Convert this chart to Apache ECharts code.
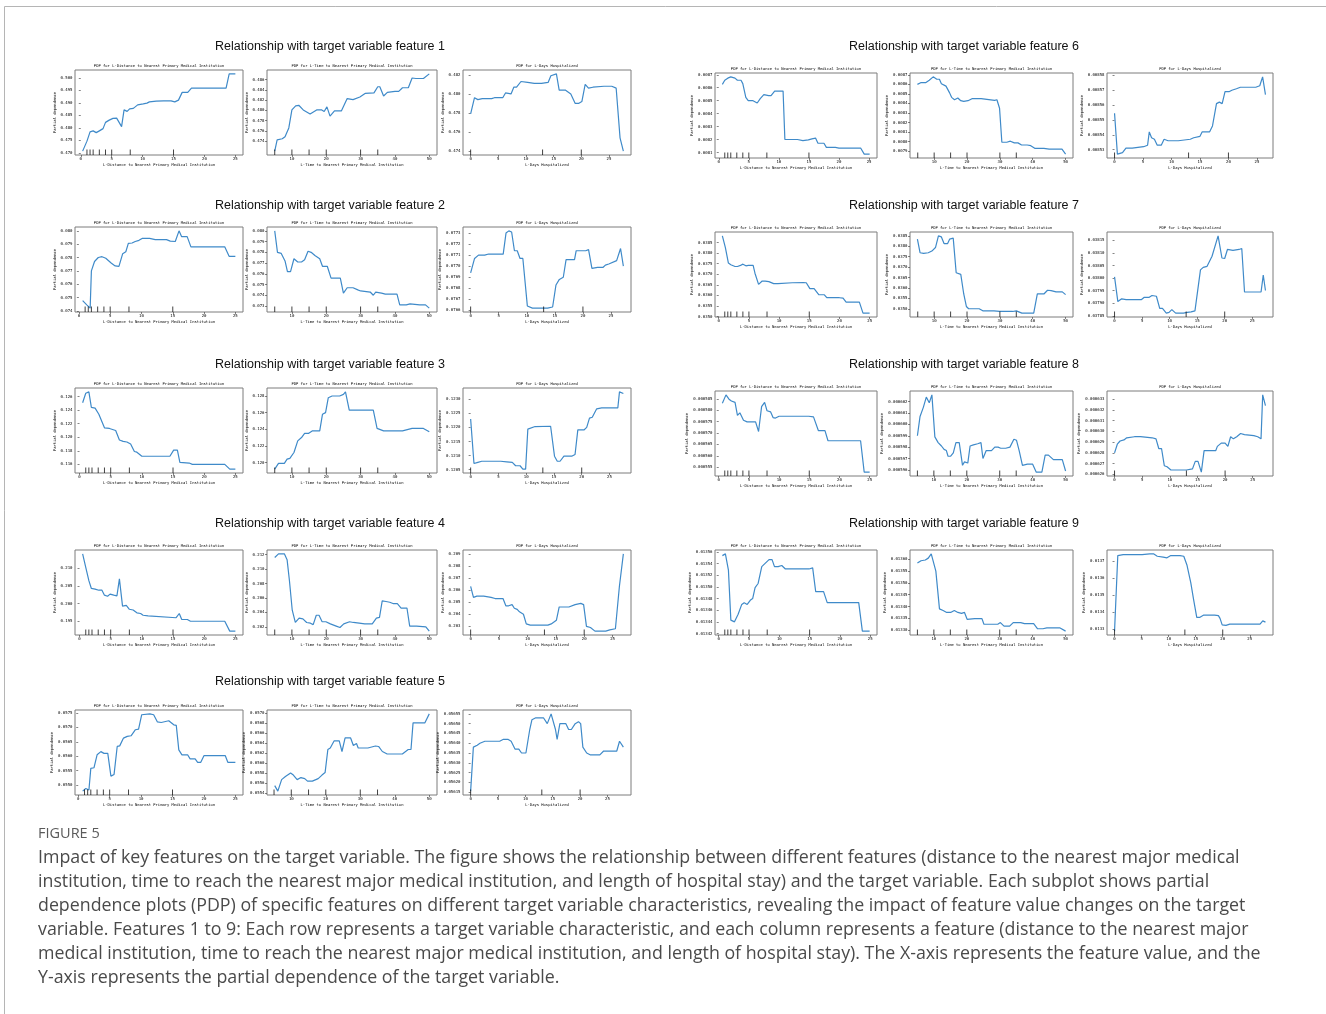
<!DOCTYPE html>
<html>
<head>
<meta charset="utf-8">
<script src="https://cdn.jsdelivr.net/npm/echarts@6/dist/echarts.min.js"></script>
<style>
  html, body { margin: 0; padding: 0; background: #fff; }
  #chart { width: 1326px; height: 1014px; }
</style>
</head>
<body>
<div id="chart"></div>
<script>
// ---- partial dependence curves: [feature value, partial dependence] ----
const f1_dist = [[0.3,0.4707],[1.0,0.4747],[1.5,0.4784],[2.0,0.4788],[2.5,0.4781],[3.0,0.4788],[3.6,0.4797],[4.0,0.4822],[4.6,0.4831],[5.2,0.4838],[5.8,0.4839],[6.1,0.4835],[6.6,0.4805],[7.0,0.4872],[7.5,0.4866],[7.9,0.4876],[8.5,0.4878],[9.2,0.4892],[10.1,0.4896],[10.7,0.4899],[11.1,0.4904],[12.2,0.4907],[13.4,0.4908],[14.6,0.4908],[15.2,0.4904],[15.8,0.4911],[16.4,0.4942],[17.3,0.4942],[17.9,0.4959],[19.4,0.4959],[21.8,0.4959],[23.5,0.4959],[24.0,0.5016],[25.0,0.5016]];
const f1_time = [[5,0.4721],[5.7,0.4743],[7.2,0.4745],[8,0.4749],[9.1,0.4766],[10,0.4801],[11.1,0.4809],[12,0.4810],[13.3,0.4801],[15.3,0.4793],[17.2,0.4801],[18.7,0.4801],[19.4,0.4798],[20.2,0.4807],[21.1,0.4789],[22.4,0.4799],[24.4,0.4799],[26.1,0.4823],[27.8,0.4821],[29.8,0.4826],[31.3,0.4833],[33.9,0.4834],[35,0.4846],[35.6,0.4846],[36.7,0.4828],[37.8,0.4835],[40,0.4837],[41.1,0.4837],[42.2,0.4844],[43.9,0.4844],[45,0.4863],[46.1,0.4862],[48.3,0.4862],[50,0.4871]];
const f1_days = [[0,0.4779],[0.7,0.4796],[1.3,0.4794],[2.1,0.4795],[3.8,0.4795],[4.3,0.4796],[5.8,0.4796],[6.3,0.4801],[7.3,0.4800],[7.8,0.4807],[8.3,0.4807],[9.1,0.4813],[10.3,0.4812],[11.5,0.4811],[12.8,0.4811],[14,0.4812],[14.5,0.4819],[15.5,0.4821],[16,0.4804],[17.1,0.4804],[18.1,0.4800],[18.9,0.4790],[19.5,0.4790],[20.1,0.4792],[20.7,0.4810],[21.3,0.4806],[22.1,0.4807],[24.1,0.4808],[25.5,0.4808],[26.3,0.4806],[27,0.4754],[27.6,0.4740]];

const f2_dist = [[0.6,0.07477],[1.3,0.07443],[1.8,0.0742],[2.0,0.0770],[2.5,0.0777],[3.1,0.0780],[3.7,0.07806],[4.3,0.07794],[4.6,0.0780],[5.2,0.07757],[5.8,0.07737],[6.4,0.07734],[7.0,0.07829],[7.5,0.07843],[7.9,0.07906],[8.5,0.07909],[9.0,0.0792],[9.6,0.07929],[10.1,0.07943],[11.3,0.07943],[12.2,0.07934],[14.0,0.07934],[14.6,0.07923],[15.4,0.0792],[16,0.0800],[16.4,0.07957],[17.3,0.07957],[17.9,0.0788],[19.4,0.0788],[23.3,0.0788],[24,0.07809],[25,0.07809]];
const f2_time = [[5,0.0800],[5.8,0.0780],[6.9,0.0779],[8.0,0.0772],[8.7,0.0762],[9.6,0.0762],[10.6,0.0774],[11.7,0.0771],[12.8,0.0771],[13.7,0.0773],[14.7,0.0781],[15.6,0.0780],[16.7,0.0777],[18.1,0.0774],[18.9,0.0767],[20.3,0.0767],[21.4,0.0756],[24.1,0.0756],[25,0.0742],[26.1,0.0747],[27.8,0.0747],[29.2,0.0745],[30,0.0744],[32.8,0.0743],[33.7,0.0740],[34.4,0.0743],[36.1,0.0742],[37.2,0.0741],[40.6,0.0741],[41.4,0.0731],[43.3,0.0731],[44.4,0.0732],[47.2,0.0731],[48.9,0.0731],[50,0.0728]];
const f2_days = [[0,0.07694],[0.7,0.07707],[1.4,0.07710],[2.5,0.07710],[3.2,0.07711],[5.4,0.07711],[5.8,0.07711],[6.3,0.07730],[6.8,0.07732],[7.3,0.07731],[7.8,0.07714],[8.3,0.07714],[8.8,0.07707],[9.3,0.07707],[10.1,0.07664],[11,0.07662],[13.7,0.07662],[14.6,0.07663],[15.2,0.07683],[15.8,0.07688],[16.5,0.07690],[17,0.07706],[18.5,0.07706],[18.8,0.07714],[20.5,0.07714],[21,0.07715],[21.6,0.07698],[22.6,0.07699],[23.6,0.07699],[24,0.07701],[24.6,0.07702],[26,0.07705],[26.7,0.07716],[27.2,0.07700]];

const f3_dist = [[0.5,0.1251],[1.0,0.1265],[1.5,0.1267],[1.9,0.1244],[2.5,0.1243],[3.1,0.1234],[4.0,0.1214],[4.3,0.1213],[4.8,0.1213],[5.8,0.1210],[6.4,0.1196],[7.0,0.1194],[7.6,0.1193],[8.2,0.1190],[8.8,0.1179],[9.2,0.1178],[10,0.1172],[12.2,0.1172],[14.5,0.1172],[15.1,0.1181],[15.7,0.1181],[16.1,0.1163],[17.6,0.1162],[18.1,0.1160],[23.3,0.1160],[24.1,0.1153],[25,0.1153]];
const f3_time = [[5,0.1192],[6.1,0.1199],[7.8,0.1199],[8.6,0.1204],[9.4,0.1205],[10.6,0.1212],[11.7,0.1226],[12.8,0.1230],[13.7,0.1235],[14.8,0.1235],[15.9,0.1238],[16.7,0.1238],[18.1,0.1238],[18.9,0.1258],[19.8,0.1260],[20.6,0.1278],[21.7,0.1280],[23.9,0.1280],[25,0.1282],[25.6,0.1285],[26.7,0.1263],[30.6,0.1263],[33.7,0.1263],[34.8,0.1241],[36.7,0.1238],[42.2,0.1238],[45,0.1241],[48.3,0.1241],[50,0.1237]];
const f3_days = [[0,0.1223],[0.6,0.12072],[1.3,0.12076],[2,0.1208],[5.4,0.1208],[6.5,0.12078],[7.5,0.12076],[8.1,0.12064],[8.9,0.12064],[9.4,0.12052],[9.9,0.12052],[10.3,0.12194],[10.6,0.122],[11.6,0.12203],[14.4,0.12204],[14.6,0.12204],[15.1,0.12098],[15.6,0.1208],[16.1,0.1208],[16.8,0.12098],[18.2,0.12098],[18.8,0.12104],[19.3,0.12191],[20.4,0.12191],[20.9,0.122],[21.4,0.12233],[21.9,0.12236],[22.7,0.12266],[23.6,0.12269],[26.5,0.12269],[26.8,0.12326],[27.5,0.1232]];

const f4_dist = [[0.5,0.2141],[1.0,0.2103],[1.5,0.2065],[1.9,0.2043],[2.5,0.2041],[3.1,0.2038],[3.6,0.2038],[4.0,0.2024],[4.5,0.2021],[4.9,0.2027],[5.5,0.2024],[6.0,0.2022],[6.4,0.2070],[6.9,0.1993],[7.5,0.1995],[8.0,0.1984],[8.6,0.1982],[9.2,0.1974],[9.8,0.1972],[10.2,0.1967],[11.0,0.1965],[11.3,0.1960],[15.5,0.1960],[16,0.1972],[16.4,0.1955],[17.3,0.1955],[17.8,0.1950],[23.3,0.1950],[24.1,0.1922],[25,0.1922]];
const f4_time = [[5,0.2116],[6.1,0.2121],[7.8,0.2121],[8.6,0.2113],[9.3,0.2083],[10.1,0.2043],[11,0.2026],[12.1,0.2032],[13.2,0.2031],[14.3,0.2026],[15.4,0.2025],[16.2,0.2023],[17.1,0.2036],[17.9,0.2036],[18.8,0.2027],[19.9,0.2027],[21.2,0.2024],[22.9,0.2021],[24,0.2019],[25.1,0.2024],[26.8,0.2027],[27.9,0.2026],[29.6,0.2025],[31.2,0.2024],[33.4,0.2024],[34.6,0.2032],[35.5,0.2033],[36.3,0.2056],[37.4,0.2055],[38.5,0.2054],[39.6,0.2052],[40.7,0.2052],[41.8,0.2046],[43.5,0.2046],[44.3,0.2021],[46.3,0.2021],[49,0.2020],[50,0.2014]];
const f4_days = [[0,0.2063],[0.5,0.2054],[1.1,0.2055],[2.3,0.2055],[3.6,0.2054],[4.3,0.2053],[5.7,0.2053],[6.2,0.2047],[6.7,0.2047],[7.3,0.2048],[7.7,0.2045],[8.2,0.2044],[8.6,0.2042],[9.3,0.2040],[9.8,0.2032],[10.5,0.2031],[12.2,0.2031],[13.6,0.2031],[14.2,0.2032],[15.1,0.2035],[15.6,0.2046],[17.3,0.2046],[18.4,0.2048],[19.4,0.2049],[19.9,0.2048],[20.4,0.2030],[21.1,0.2029],[21.9,0.2026],[23.8,0.2026],[24.5,0.2027],[25.5,0.2028],[26.2,0.2063],[26.9,0.2090]];

const f5_dist = [[0.7,0.05479],[1.2,0.05488],[1.7,0.05483],[2.0,0.05558],[2.5,0.05560],[3.0,0.05605],[3.6,0.05616],[4.1,0.05610],[4.7,0.05610],[5.2,0.05531],[5.7,0.05537],[6.2,0.05634],[6.6,0.05636],[7.2,0.05663],[7.8,0.05669],[8.4,0.05671],[9.1,0.05692],[9.6,0.05694],[10.1,0.05744],[11.4,0.05747],[12,0.05744],[12.6,0.05719],[13.2,0.05717],[14.4,0.05723],[14.7,0.05723],[15.2,0.05709],[15.6,0.05707],[16.0,0.05622],[16.5,0.05605],[17.4,0.05605],[17.8,0.05591],[18.6,0.05591],[19.0,0.05579],[19.5,0.05579],[20,0.05602],[23.4,0.05602],[23.8,0.05579],[25,0.05579]];
const f5_time = [[5.2,0.05555],[6.1,0.05544],[7.2,0.05567],[8.3,0.05573],[9.8,0.05580],[10.6,0.05576],[11.7,0.05567],[12.8,0.05571],[13.9,0.05569],[14.7,0.05564],[16.1,0.05564],[17.8,0.05569],[18.9,0.05576],[19.8,0.05581],[20.6,0.05627],[21.3,0.05630],[22.4,0.05644],[23.9,0.05644],[24.7,0.05623],[25.6,0.05650],[27.2,0.05650],[28,0.05635],[28.9,0.05639],[29.4,0.05630],[32.2,0.05630],[34.4,0.05634],[35.3,0.05633],[36.4,0.05623],[37.8,0.05618],[42.2,0.05618],[43.9,0.05627],[44.7,0.05627],[45.3,0.05680],[48.7,0.05680],[50,0.05698]];
const f5_days = [[0,0.056155],[0.5,0.05638],[1.2,0.05639],[1.7,0.05640],[2.6,0.05641],[5.3,0.05641],[6,0.05642],[6.8,0.05642],[7.4,0.05641],[8.1,0.05637],[8.8,0.05637],[9.3,0.05635],[10.1,0.05635],[10.8,0.05647],[11.2,0.05652],[11.9,0.05653],[13.3,0.05653],[14.0,0.05650],[14.7,0.05655],[15.5,0.05647],[15.8,0.05642],[16.3,0.05650],[17.4,0.05650],[17.9,0.05647],[18.4,0.05647],[19.1,0.05650],[19.7,0.05651],[20.1,0.05650],[20.5,0.05638],[21.2,0.05635],[21.9,0.05634],[23.6,0.05634],[24.3,0.05636],[26.1,0.05636],[26.7,0.05636],[27.2,0.05641],[27.9,0.05638]];

const f6_dist = [[0.6,0.008626],[1.0,0.008658],[1.5,0.008674],[2.0,0.008684],[2.7,0.008674],[3.1,0.008658],[3.7,0.008658],[4.0,0.008632],[4.5,0.008526],[4.9,0.0085],[5.7,0.0085],[6.4,0.008482],[6.9,0.008516],[7.5,0.008547],[8.3,0.008539],[8.7,0.008539],[9.3,0.008574],[10.7,0.008574],[11.0,0.0082],[13.1,0.0082],[14.0,0.008192],[14.9,0.008197],[15.5,0.008205],[16.1,0.008211],[16.5,0.008171],[17.5,0.008171],[17.9,0.008139],[19.4,0.008139],[20,0.008134],[23.6,0.008134],[24.2,0.008087],[25.1,0.008087]];
const f6_time = [[4.9,0.0086],[5.9,0.008618],[7.4,0.008618],[8.5,0.008643],[9.7,0.008679],[10.8,0.008654],[11.6,0.008654],[12.2,0.008607],[13.6,0.008582],[14.7,0.008511],[15.3,0.008464],[16.2,0.008439],[17.2,0.008457],[18.1,0.008429],[19.0,0.008421],[20.3,0.008429],[21.5,0.00845],[24.3,0.00845],[24.8,0.008432],[28.4,0.008432],[29.1,0.008439],[29.9,0.00835],[30.6,0.007993],[32.1,0.007993],[33.2,0.008004],[34.4,0.007986],[35.5,0.007986],[36.6,0.007964],[38.3,0.007964],[39.4,0.007957],[40.6,0.007929],[43.4,0.007929],[45,0.007921],[48.9,0.007921],[50,0.007868]];
const f6_days = [[0,0.0085545],[0.5,0.008527],[1.4,0.008528],[2.0,0.008531],[3.1,0.008531],[5.1,0.008532],[5.3,0.008533],[5.8,0.008533],[6.1,0.008542],[6.5,0.008538],[7.0,0.008537],[7.5,0.008533],[8.2,0.008533],[8.7,0.008537],[9.4,0.008536],[11.2,0.008536],[13.3,0.008537],[13.9,0.008538],[15.0,0.008539],[15.4,0.008542],[16.7,0.008542],[17.2,0.008546],[17.9,0.008561],[18.4,0.008562],[18.9,0.008561],[19.4,0.008569],[20.1,0.008569],[20.6,0.00857],[21.4,0.008571],[22.1,0.008572],[24.8,0.008572],[25.5,0.008573],[26,0.008579],[26.5,0.008567]];

const f7_dist = [[0.6,0.03882],[1.1,0.03826],[1.6,0.03753],[2.0,0.03745],[2.7,0.03737],[3.1,0.03737],[3.6,0.03742],[4.0,0.03748],[4.5,0.0374],[4.9,0.03742],[5.7,0.03742],[6.0,0.03705],[6.6,0.03652],[7.2,0.03668],[7.7,0.03668],[8.3,0.03665],[9.1,0.03656],[9.8,0.03656],[10.1,0.0366],[12.2,0.0366],[14.0,0.03661],[14.5,0.0366],[15.1,0.03632],[15.8,0.03632],[16.1,0.03635],[16.6,0.03603],[17.5,0.03603],[17.9,0.03589],[20,0.03589],[20.6,0.03587],[21.1,0.03568],[23.3,0.03568],[23.9,0.03516],[25,0.03516]];
const f7_time = [[4.9,0.03834],[5.7,0.03769],[6.8,0.03766],[8.2,0.03769],[9.3,0.03777],[10.4,0.03794],[11.3,0.0385],[12.2,0.03845],[13.0,0.03813],[14.1,0.03813],[14.7,0.03834],[15.8,0.03839],[16.7,0.03673],[18.1,0.03665],[19,0.03571],[19.8,0.03511],[20.5,0.035],[23.7,0.035],[24.8,0.0349],[28.2,0.0349],[29.9,0.03487],[33.9,0.03487],[35,0.0349],[36.7,0.03479],[40.3,0.03479],[41.4,0.03571],[43.4,0.03571],[44.5,0.03589],[45.6,0.03587],[47.1,0.03581],[49,0.03581],[50,0.03568]];
const f7_days = [[0,0.038005],[0.6,0.037907],[1.3,0.037918],[2.1,0.037915],[4.9,0.037915],[5.4,0.037924],[6.3,0.037924],[6.8,0.037931],[7.6,0.037928],[8.2,0.03788],[8.7,0.03788],[9.4,0.037861],[9.9,0.037864],[10.4,0.037875],[11.1,0.037861],[12.5,0.037861],[13.2,0.037864],[13.9,0.037866],[14.6,0.03787],[14.9,0.037875],[15.6,0.038033],[16.1,0.038043],[16.8,0.038047],[17.7,0.038087],[18.8,0.038168],[19.5,0.03808],[20,0.038078],[20.5,0.038114],[21.5,0.03811],[22.6,0.038114],[23.1,0.038118],[23.6,0.037945],[26.6,0.037945],[27,0.038012],[27.4,0.037951]];

const f8_dist = [[0.6,0.0005831],[1.2,0.0005868],[1.7,0.0005849],[2.1,0.0005841],[2.7,0.0005835],[3.1,0.0005778],[3.5,0.0005789],[3.7,0.0005793],[4.1,0.0005756],[4.7,0.0005749],[6.1,0.0005749],[6.3,0.0005741],[6.6,0.0005707],[7.1,0.0005816],[7.6,0.0005835],[8.0,0.0005798],[8.6,0.0005793],[9.0,0.0005768],[9.4,0.0005766],[10,0.0005774],[14.9,0.0005774],[15.7,0.0005771],[16.5,0.0005711],[17.6,0.0005711],[18.1,0.0005666],[20,0.0005666],[23.5,0.0005666],[24.1,0.0005528],[25,0.0005528]];
const f8_time = [[5,0.000599],[5.8,0.0006007],[6.8,0.0006015],[7.7,0.0006024],[8.6,0.0006019],[9.4,0.0006026],[10.3,0.0005989],[11.3,0.0005984],[12.3,0.0005981],[13.1,0.0005978],[13.8,0.0005977],[14.3,0.0005972],[15.1,0.0005972],[15.9,0.0005975],[16.7,0.0005984],[17.7,0.0005984],[18.7,0.0005964],[19.3,0.0005967],[20.3,0.0005966],[21,0.0005981],[22,0.0005982],[23.3,0.0005983],[24.3,0.0005984],[24.9,0.000597],[25.9,0.0005977],[27.5,0.0005977],[28.5,0.000598],[29.5,0.000598],[30.3,0.0005979],[31.8,0.0005979],[33.1,0.000598],[34.3,0.0005987],[35.1,0.0005986],[35.9,0.0005977],[36.9,0.0005964],[38.4,0.0005965],[40,0.0005965],[41.1,0.0005958],[42.8,0.0005958],[43.8,0.0005973],[44.8,0.0005973],[46.3,0.0005969],[49,0.0005969],[50,0.0005959]];
const f8_days = [[0,0.000628],[0.5,0.0006288],[1.0,0.0006291],[1.7,0.0006292],[2.2,0.0006294],[3.6,0.0006295],[4.7,0.0006295],[6.8,0.0006294],[7.5,0.0006293],[8.0,0.0006284],[8.5,0.0006284],[9.0,0.0006268],[9.5,0.0006267],[10.2,0.0006264],[13,0.0006264],[14.1,0.0006265],[14.6,0.0006272],[15.1,0.0006272],[15.7,0.0006262],[16.2,0.0006282],[17.6,0.0006282],[18.3,0.0006282],[18.6,0.0006286],[19.3,0.0006289],[20,0.0006289],[20.5,0.0006286],[21.0,0.0006295],[21.5,0.0006293],[22.1,0.0006295],[22.8,0.0006298],[23.5,0.0006297],[25.2,0.0006296],[25.9,0.0006295],[26.5,0.0006293],[26.8,0.0006334],[27.3,0.0006324]];

const f9_dist = [[0.6,0.013554],[1.1,0.013557],[1.6,0.013529],[2.0,0.013443],[2.6,0.01344],[3.2,0.013453],[3.8,0.01347],[4.2,0.013473],[4.7,0.01347],[5.2,0.013477],[5.6,0.01348],[6.0,0.013499],[6.5,0.013506],[7.1,0.013535],[7.7,0.013541],[8.3,0.013547],[8.8,0.013547],[9.2,0.013535],[9.8,0.013535],[10.4,0.013537],[11.0,0.013531],[14.9,0.013531],[15.5,0.013533],[16,0.013492],[17.3,0.013492],[17.9,0.013473],[23.1,0.013473],[23.7,0.013424],[24.9,0.013424]];
const f9_time = [[5,0.013583],[6.1,0.013593],[7.4,0.013596],[8.3,0.013604],[9.2,0.013622],[9.7,0.013622],[10.6,0.013549],[11.7,0.01339],[12.8,0.013383],[13.9,0.013375],[15.1,0.013375],[16.2,0.013383],[17.3,0.013375],[18.4,0.013371],[19.3,0.013375],[20.1,0.013346],[22.4,0.013349],[24.6,0.013349],[25.2,0.013325],[29.4,0.013325],[30.2,0.013332],[31.3,0.013317],[33,0.013317],[34.1,0.013332],[36.4,0.013332],[37.5,0.013328],[40.3,0.013328],[41.5,0.013306],[43.1,0.013306],[44.3,0.01331],[48.2,0.01331],[50,0.013296]];
const f9_days = [[0,0.013289],[0.6,0.013732],[1.6,0.013738],[5.1,0.013738],[6.5,0.013742],[7.2,0.013742],[7.9,0.013728],[9.0,0.013723],[9.7,0.013719],[10.4,0.013732],[12.1,0.013732],[12.8,0.013728],[13.4,0.013675],[14.1,0.013572],[14.6,0.013477],[15.2,0.01337],[15.8,0.01337],[16.5,0.013383],[18.5,0.013383],[19.2,0.01338],[19.5,0.013364],[19.9,0.013326],[20.6,0.013323],[21.3,0.01333],[26.9,0.01333],[27.4,0.013349],[27.9,0.013342]];

// ---- decile rug positions of each feature ----
const rugDist = [1, 1.5, 2, 3, 4, 5, 8, 15];
const rugTime = [5, 10, 15, 20, 30, 35];
const rugDays = [0, 13, 20];

// ---- tick labels ----
const xTicksDist = ['0', '5', '10', '15', '20', '25'];
const xTicksTime = ['10', '20', '30', '40', '50'];
const xTicksDays = ['0', '5', '10', '15', '20', '25'];

const f1_dist_y = ['0.470','0.475','0.480','0.485','0.490','0.495','0.500'];
const f1_time_y = ['0.474','0.476','0.478','0.480','0.482','0.484','0.486'];
const f1_days_y = ['0.474','0.476','0.478','0.480','0.482'];
const f2_dist_y = ['0.074','0.075','0.076','0.077','0.078','0.079','0.080'];
const f2_time_y = ['0.073','0.074','0.075','0.076','0.077','0.078','0.079','0.080'];
const f2_days_y = ['0.0766','0.0767','0.0768','0.0769','0.0770','0.0771','0.0772','0.0773'];
const f3_dist_y = ['0.116','0.118','0.120','0.122','0.124','0.126'];
const f3_time_y = ['0.120','0.122','0.124','0.126','0.128'];
const f3_days_y = ['0.1205','0.1210','0.1215','0.1220','0.1225','0.1230'];
const f4_dist_y = ['0.195','0.200','0.205','0.210'];
const f4_time_y = ['0.202','0.204','0.206','0.208','0.210','0.212'];
const f4_days_y = ['0.203','0.204','0.205','0.206','0.207','0.208','0.209'];
const f5_dist_y = ['0.0550','0.0555','0.0560','0.0565','0.0570','0.0575'];
const f5_time_y = ['0.0554','0.0556','0.0558','0.0560','0.0562','0.0564','0.0566','0.0568','0.0570'];
const f5_days_y = ['0.05615','0.05620','0.05625','0.05630','0.05635','0.05640','0.05645','0.05650','0.05655'];
const f6_dist_y = ['0.0081','0.0082','0.0083','0.0084','0.0085','0.0086','0.0087'];
const f6_time_y = ['0.0079','0.0080','0.0081','0.0082','0.0083','0.0084','0.0085','0.0086','0.0087'];
const f6_days_y = ['0.00853','0.00854','0.00855','0.00856','0.00857','0.00858'];
const f7_dist_y = ['0.0350','0.0355','0.0360','0.0365','0.0370','0.0375','0.0380','0.0385'];
const f7_time_y = ['0.0350','0.0355','0.0360','0.0365','0.0370','0.0375','0.0380','0.0385'];
const f7_days_y = ['0.03785','0.03790','0.03795','0.03800','0.03805','0.03810','0.03815'];
const f8_dist_y = ['0.000555','0.000560','0.000565','0.000570','0.000575','0.000580','0.000585'];
const f8_time_y = ['0.000596','0.000597','0.000598','0.000599','0.000600','0.000601','0.000602'];
const f8_days_y = ['0.000626','0.000627','0.000628','0.000629','0.000630','0.000631','0.000632','0.000633'];
const f9_dist_y = ['0.01342','0.01344','0.01346','0.01348','0.01350','0.01352','0.01354','0.01356'];
const f9_time_y = ['0.01330','0.01335','0.01340','0.01345','0.01350','0.01355','0.01360'];
const f9_days_y = ['0.0133','0.0134','0.0135','0.0136','0.0137'];

// ---- texts ----
const panelTitles = ['PDP for L-Distance to Nearest Primary Medical Institution', 'PDP for L-Time to Nearest Primary Medical Institution', 'PDP for L-Days Hospitalized'];
const xNames = ['L-Distance to Nearest Primary Medical Institution', 'L-Time to Nearest Primary Medical Institution', 'L-Days Hospitalized'];
const yName = 'Partial dependence';
const figureLabel = 'FIGURE 5';
const captionLines = [
  'Impact of key features on the target variable. The figure shows the relationship between different features (distance to the nearest major medical',
  'institution, time to reach the nearest major medical institution, and length of hospital stay) and the target variable. Each subplot shows partial',
  'dependence plots (PDP) of specific features on different target variable characteristics, revealing the impact of feature value changes on the target',
  'variable. Features 1 to 9: Each row represents a target variable characteristic, and each column represents a feature (distance to the nearest major',
  'medical institution, time to reach the nearest major medical institution, and length of hospital stay). The X-axis represents the feature value, and the',
  'Y-axis represents the partial dependence of the target variable.'
];

// ---- assemble the nine feature blocks ----
const features = [
  { lines: [f1_dist, f1_time, f1_days], yt: [f1_dist_y, f1_time_y, f1_days_y] },
  { lines: [f2_dist, f2_time, f2_days], yt: [f2_dist_y, f2_time_y, f2_days_y] },
  { lines: [f3_dist, f3_time, f3_days], yt: [f3_dist_y, f3_time_y, f3_days_y] },
  { lines: [f4_dist, f4_time, f4_days], yt: [f4_dist_y, f4_time_y, f4_days_y] },
  { lines: [f5_dist, f5_time, f5_days], yt: [f5_dist_y, f5_time_y, f5_days_y] },
  { lines: [f6_dist, f6_time, f6_days], yt: [f6_dist_y, f6_time_y, f6_days_y] },
  { lines: [f7_dist, f7_time, f7_days], yt: [f7_dist_y, f7_time_y, f7_days_y] },
  { lines: [f8_dist, f8_time, f8_days], yt: [f8_dist_y, f8_time_y, f8_days_y] },
  { lines: [f9_dist, f9_time, f9_days], yt: [f9_dist_y, f9_time_y, f9_days_y] }
];
const xTickSets = [xTicksDist, xTicksTime, xTicksDays];
const rugSets = [rugDist, rugTime, rugDays];

// page layout (px)
const leftCol = { boxes: [[75, 243], [267, 437], [463, 631]], center: 330, rows: [[47, 70], [206, 227], [365, 388], [524, 550], [682, 710]] };
const rightCol = { boxes: [[715, 877], [910, 1073], [1107, 1273]], center: 964, rows: [[47, 73], [206, 232], [365, 391], [524, 550]] };
const BOX_H = 85;
const TINY = 'DejaVu Sans Mono';
const LINE_COLOR = '#3f8ac9';

function padded(vals) {
  const mn = Math.min(...vals), mx = Math.max(...vals), p = (mx - mn) * 0.05;
  return [mn - p, mx + p];
}

const grids = [], xAxes = [], yAxes = [], series = [], graphics = [];

graphics.push({ type: 'rect', shape: { x: 4.5, y: 6.5, width: 1340, height: 1030 }, style: { fill: 'none', stroke: '#b5b5b5', lineWidth: 1 }, silent: true });

features.forEach((feat, fi) => {
  const col = fi < 5 ? leftCol : rightCol;
  const [titleY, boxTop] = col.rows[fi < 5 ? fi : fi - 5];
  graphics.push({
    type: 'text', x: col.center, y: titleY,
    style: { text: 'Relationship with target variable feature ' + (fi + 1), font: '12.5px "Liberation Sans", Arial, sans-serif', fill: '#111', align: 'center', verticalAlign: 'middle' }
  });
  feat.lines.forEach((line, pi) => {
    const gi = grids.length;
    const [x0, x1] = col.boxes[pi];
    const xr = padded(line.map(d => d[0]));
    const yr = padded(line.map(d => d[1]));
    const yLabels = feat.yt[pi];
    const yVals = yLabels.map(Number);
    const xLabels = xTickSets[pi];
    const xVals = xLabels.map(Number);
    const labelW = yLabels[0].length * 2.4;

    grids.push({ left: x0, top: boxTop, width: x1 - x0, height: BOX_H, show: true, borderColor: '#7d7d7d', borderWidth: 1, backgroundColor: 'transparent', containLabel: false, outerBoundsMode: 'none' });
    graphics.push({
      type: 'text', x: (x0 + x1) / 2, y: boxTop - 4,
      style: { text: panelTitles[pi], font: '3.8px "' + TINY + '"', fill: '#000', align: 'center', verticalAlign: 'middle' }
    });
    xAxes.push({
      type: 'value', gridIndex: gi, min: xr[0], max: xr[1],
      axisLine: { show: false }, splitLine: { show: false },
      axisTick: { show: true, length: 2, inside: false, customValues: xVals, lineStyle: { color: '#333', width: 0.6 } },
      axisLabel: { customValues: xVals, fontSize: 4, fontFamily: TINY, color: '#000', margin: 2, formatter: v => xLabels[xVals.indexOf(v)] ?? String(v) },
      name: xNames[pi], nameLocation: 'middle', nameGap: 8, nameTextStyle: { fontSize: 3.8, fontFamily: TINY, color: '#000' }
    });
    yAxes.push({
      type: 'value', gridIndex: gi, min: yr[0], max: yr[1],
      axisLine: { show: false }, splitLine: { show: false },
      axisTick: { show: true, length: 2, inside: false, customValues: yVals, lineStyle: { color: '#333', width: 0.6 } },
      axisLabel: { customValues: yVals, fontSize: 4, fontFamily: TINY, color: '#000', margin: 2.5, formatter: v => { let k = 0, best = Infinity; yVals.forEach((t, j) => { const d = Math.abs(t - v); if (d < best) { best = d; k = j; } }); return yLabels[k]; } },
      name: yName, nameLocation: 'middle', nameGap: labelW + 6, nameRotate: 90, nameTextStyle: { fontSize: 3.8, fontFamily: TINY, color: '#000' }
    });
    series.push({
      type: 'line', xAxisIndex: gi, yAxisIndex: gi, data: line, showSymbol: false, symbol: 'none',
      lineStyle: { color: LINE_COLOR, width: 1.2 }, silent: true, z: 2
    });
    series.push({
      type: 'custom', xAxisIndex: gi, yAxisIndex: gi, silent: true, z: 3,
      data: rugSets[pi].map(v => [v, yr[0]]),
      renderItem: (params, api) => {
        const px = api.coord([api.value(0), api.value(1)])[0];
        const yb = params.coordSys.y + params.coordSys.height;
        return { type: 'line', shape: { x1: px, y1: yb, x2: px, y2: yb - 5.5 }, style: { stroke: '#111', lineWidth: 0.8 } };
      }
    });
  });
});

graphics.push({
  type: 'text', x: 38, y: 834,
  style: { text: figureLabel, font: '500 14.5px "Open Sans", sans-serif', fill: '#5a5a5a', verticalAlign: 'middle' }
});
captionLines.forEach((t, i) => {
  graphics.push({
    type: 'text', x: 38, y: 858 + i * 24,
    style: { text: t, font: '17.8px "Open Sans", sans-serif', fill: '#4a4a4a', verticalAlign: 'middle' }
  });
});

const chart = echarts.init(document.getElementById('chart'), null, { renderer: 'canvas' });
chart.setOption({
  animation: false,
  backgroundColor: '#fff',
  grid: grids,
  xAxis: xAxes,
  yAxis: yAxes,
  series: series,
  graphic: graphics
});
</script>
</body>
</html>
